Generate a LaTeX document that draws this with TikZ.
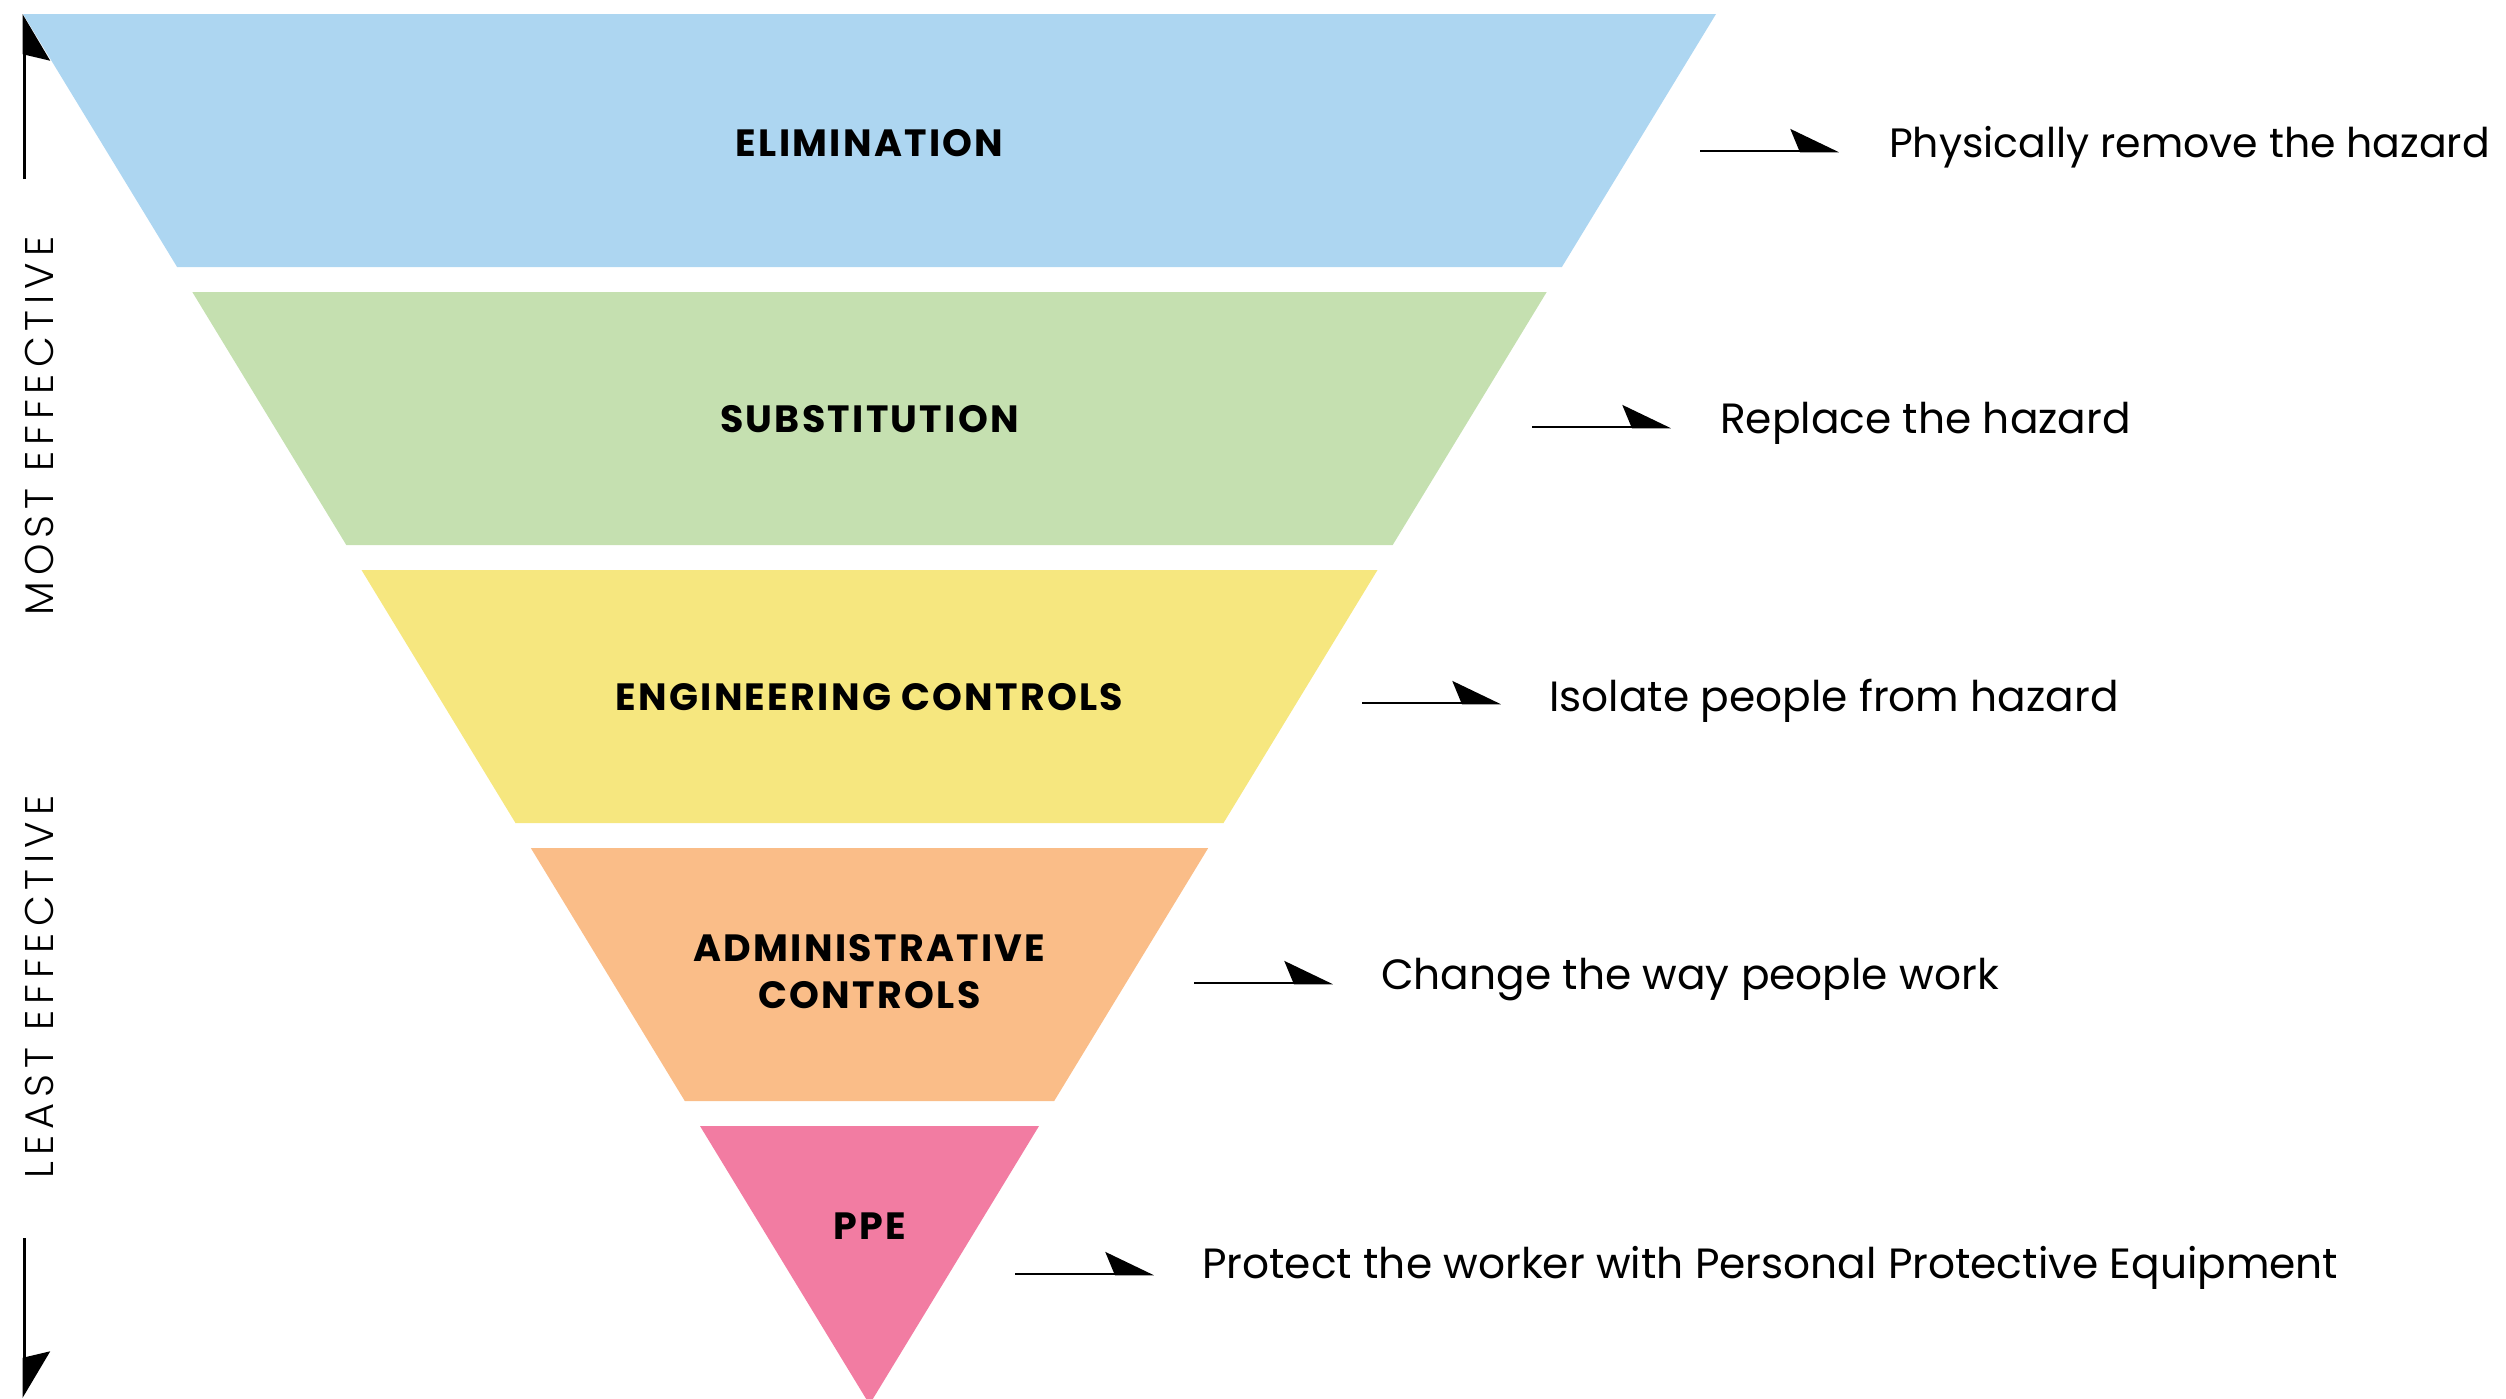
\documentclass[tikz,border=0pt]{standalone}
\usepackage{fontspec}
\setmainfont{Poppins}
\newfontfamily\thinfont[LetterSpace=15]{Poppins Light}
\newfontfamily\lvlfont[LetterSpace=6]{Poppins}
\usetikzlibrary{arrows.meta}
\definecolor{cElim}{HTML}{ADD6F1}
\definecolor{cSubs}{HTML}{C5E0B0}
\definecolor{cEng}{HTML}{F6E77F}
\definecolor{cAdm}{HTML}{FABD88}
\definecolor{cPPE}{HTML}{F27CA2}
\tikzset{
  band/.style={fill=#1, draw=none},
  lvl/.style={font=\fontsize{38}{47}\selectfont\lvlfont\bfseries, inner sep=0pt, align=center},
  desc/.style={font=\fontsize{42.3}{50}\selectfont, inner sep=0pt, anchor=base west},
  side/.style={font=\fontsize{40}{48}\selectfont\thinfont, inner sep=0pt, rotate=90},
  pointer/.style={line width=2.5pt, -{Stealth[harpoon, length=46pt, width=44pt, inset=9pt]}},
  sidearrowup/.style={line width=3pt, -{Stealth[harpoon, swap, length=44pt, width=52pt, inset=6pt]}},
  sidearrowdown/.style={line width=3pt, -{Stealth[harpoon, length=44pt, width=52pt, inset=6pt]}}
}
\begin{document}
\begin{tikzpicture}[x=1pt, y=-1pt]
\useasboundingbox (0,0) rectangle (2506,1398);
\clip (0,0) rectangle (2506,1398);
% bands
\fill[band=cElim] (23,14) -- (1716,14) -- (1561.9,267) -- (177.1,267) -- cycle;
\fill[band=cSubs] (192.3,292) -- (1546.7,292) -- (1392.7,545) -- (346.3,545) -- cycle;
\fill[band=cEng] (361.5,570) -- (1377.5,570) -- (1223.5,823) -- (515.5,823) -- cycle;
\fill[band=cAdm] (530.8,848) -- (1208.2,848) -- (1054.2,1101) -- (684.8,1101) -- cycle;
\fill[band=cPPE] (700,1126) -- (1039,1126) -- (869.5,1404.4) -- cycle;
% level labels
\node[lvl, anchor=base] (l1) at (869.5,156) {ELIMINATION};
\node[lvl, anchor=base] (l2) at (869.5,432) {SUBSTITUTION};
\node[lvl, anchor=base] (l3) at (869.5,710) {ENGINEERING CONTROLS};
\node[lvl, anchor=center] (l4) at (869.5,972) {ADMINISTRATIVE\\CONTROLS};
\node[lvl, anchor=base] (l5) at (869.5,1239) {PPE};
% descriptions
\node[desc, font=\fontsize{41}{50}\selectfont] (d1) at (1889,157) {Physically remove the hazard};
\node[desc] (d2) at (1720,433) {Replace the hazard};
\node[desc] (d3) at (1549,711) {Isolate people from hazard};
\node[desc] (d4) at (1381,989) {Change the way people work};
\node[desc] (d5) at (1202,1278) {Protect the worker with Personal Protective Equipment};
% pointer coordinates
\coordinate (p1s) at (1700,151); \coordinate (p1e) at (1839,151);
\coordinate (p2s) at (1532,427); \coordinate (p2e) at (1671,427);
\coordinate (p3s) at (1362,703); \coordinate (p3e) at (1501,703);
\coordinate (p4s) at (1194,983); \coordinate (p4e) at (1333,983);
\coordinate (p5s) at (1015,1274); \coordinate (p5e) at (1154,1274);
\foreach \i in {1,...,5} { \draw[pointer] (p\i s) -- (p\i e); }
% side axis
\coordinate (up0) at (24,179); \coordinate (up1) at (24,14);
\coordinate (dn0) at (24,1238); \coordinate (dn1) at (24,1398);
\draw[sidearrowup] (up0) -- (up1);
\draw[sidearrowdown] (dn0) -- (dn1);
\node[side] (most) at (39,426) {MOST EFFECTIVE};
\node[side] (least) at (39,987) {LEAST EFFECTIVE};
\end{tikzpicture}
\end{document}
